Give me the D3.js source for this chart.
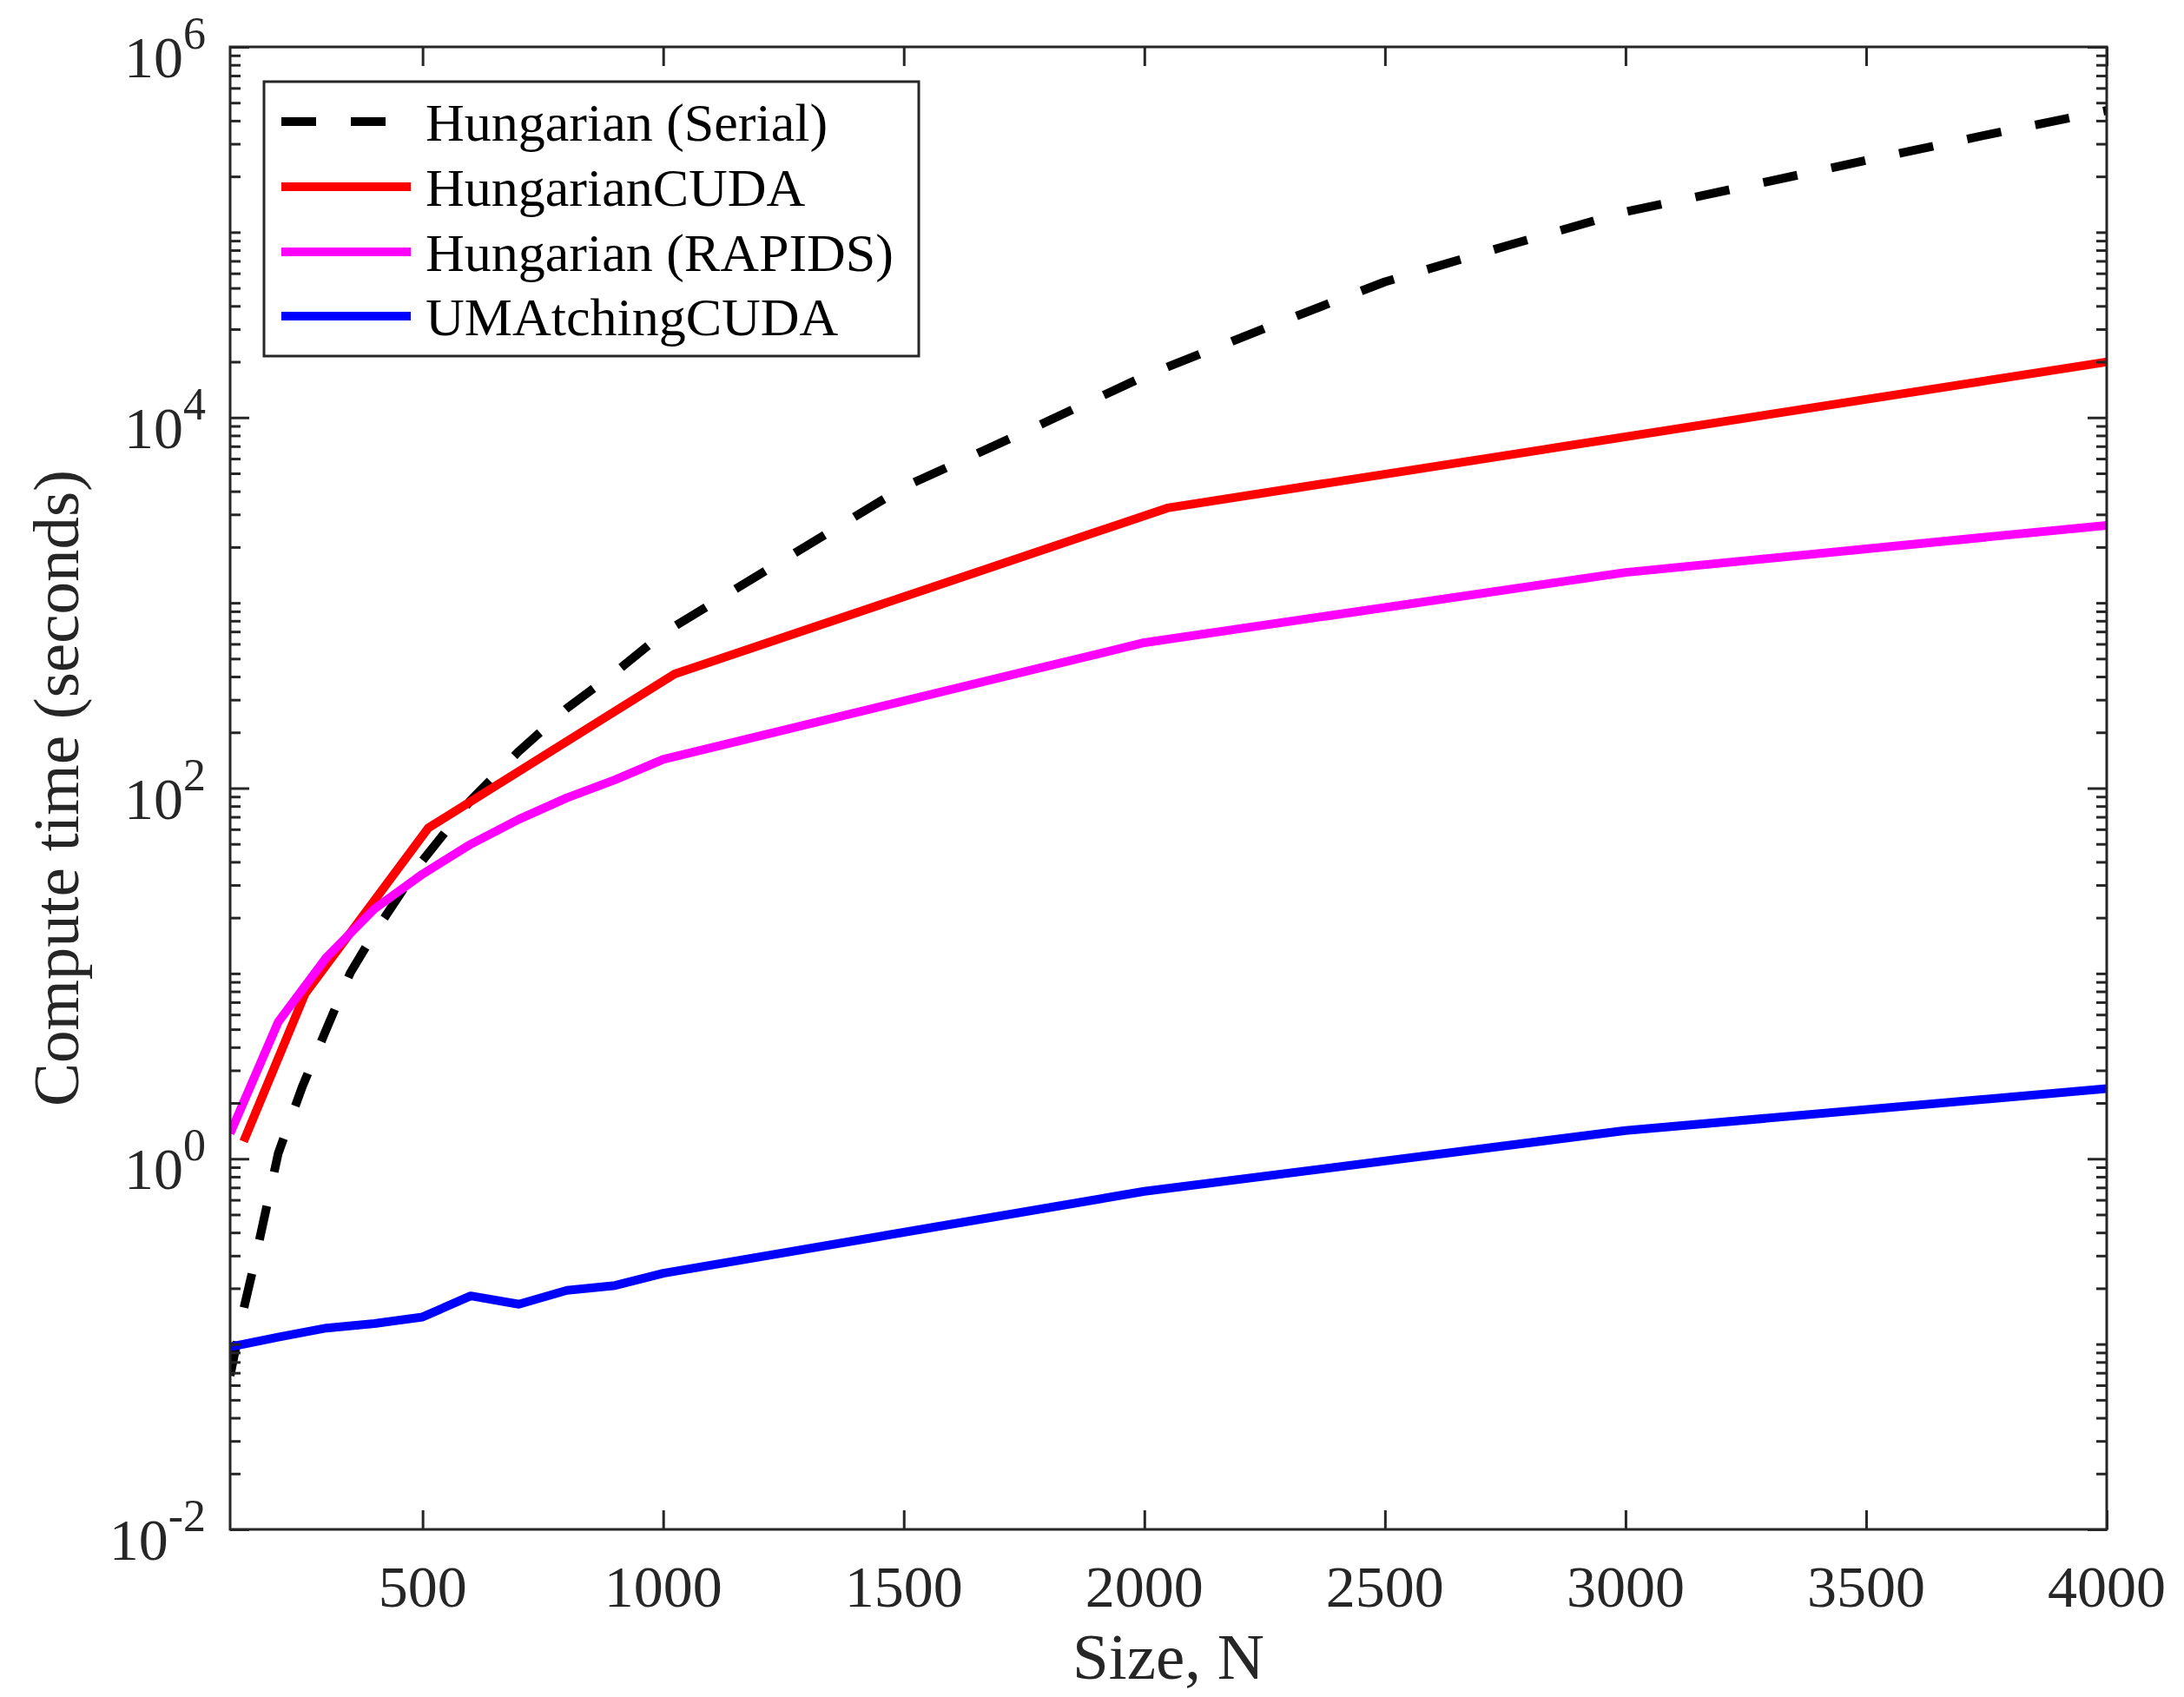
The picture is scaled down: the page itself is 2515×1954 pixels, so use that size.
<!DOCTYPE html>
<html>
<head>
<script src="https://d3js.org/d3.v7.min.js"></script>
<style>
  body { margin: 0; background: #fff; }
  text { font-family: "Liberation Serif", "Times New Roman", serif; }
</style>
</head>
<body>
<svg width="2515" height="1954"></svg>
<script>
// values (seconds)
const serialN = [100, 128, 150, 200, 250, 300, 350, 400, 500, 600, 700, 800, 900, 1000,
                 1250, 1500, 1750, 2000, 2250, 2500, 2750, 3000, 3250, 3500, 3750, 4000];
const serialT = [0.0675, 0.154, 0.27, 1.07, 2.45, 5.0, 10.1, 16.6, 40.7, 86, 158, 270, 421, 685,
                 1706, 4210, 8340, 16700, 30300, 54000, 84000, 128800, 177000, 244000, 335000, 454000];

const cudaN = [128, 256, 512, 1024, 2048, 4096];
const cudaT = [1.24, 7.8, 61, 413, 3250, 21800];

const rapidsN = [100, 200, 300, 400, 500, 600, 700, 800, 900, 1000, 2000, 3000, 4000];
const rapidsT = [1.37, 5.47, 12.2, 22.3, 34.4, 49.8, 67.9, 88.7, 111, 143, 610, 1459, 2620];

const umN = [100, 200, 300, 400, 500, 600, 700, 800, 900, 1000, 2000, 3000, 4000];
const umT = [0.0966, 0.109, 0.122, 0.129, 0.140, 0.182, 0.164, 0.195, 0.207, 0.241, 0.667, 1.42, 2.39];

const xTicks = [500, 1000, 1500, 2000, 2500, 3000, 3500, 4000];
const yMajor = [-2, 0, 2, 4, 6];   // exponents that get a label

const series = [
  { name: "Hungarian (Serial)", n: serialN, t: serialT, color: "#000000", dash: "40,40" },
  { name: "HungarianCUDA", n: cudaN, t: cudaT, color: "#ff0000", dash: null },
  { name: "Hungarian (RAPIDS)", n: rapidsN, t: rapidsT, color: "#ff00ff", dash: null },
  { name: "UMAtchingCUDA", n: umN, t: umT, color: "#0000ff", dash: null }
];

const L = 265, R = 2426, T = 54, B = 1761;
const axisColor = "#262626";

const svg = d3.select("svg");
svg.append("rect").attr("width", 2515).attr("height", 1954).attr("fill", "#fff");

const x = d3.scaleLinear().domain([100, 4000]).range([L, R]);
const y = d3.scaleLog().domain([1e-2, 1e6]).range([B, T]);

// minor ticks: 1..9 x 10^k, skipping the labelled decades
const majorVals = yMajor.map(e => Math.pow(10, e));
const minorVals = [];
for (let k = -2; k < 6; k++) {
  for (let m = 1; m <= 9; m++) {
    const v = m * Math.pow(10, k);
    if (!majorVals.some(mv => Math.abs(mv - v) / v < 1e-9)) minorVals.push(v);
  }
}

svg.append("defs").append("clipPath").attr("id", "plotclip")
  .append("rect").attr("x", L).attr("y", T).attr("width", R - L).attr("height", B - T);

// lines
const line = d3.line().x(d => x(d[0])).y(d => y(d[1]));
const lines = svg.append("g").attr("clip-path", "url(#plotclip)");
series.forEach(s => {
  lines.append("path")
    .datum(s.n.map((n, i) => [n, s.t[i]]))
    .attr("d", line)
    .attr("fill", "none")
    .attr("stroke", s.color)
    .attr("stroke-width", 10)
    .attr("stroke-linejoin", "round")
    .attr("stroke-dasharray", s.dash);
});

// axes: ticks point inward on all four sides
function styleAxis(g) {
  g.select(".domain").remove();
  g.selectAll(".tick line").attr("stroke", axisColor).attr("stroke-width", 3);
  g.selectAll(".tick text").remove();
}
svg.append("g").attr("transform", `translate(0,${B})`)
  .call(d3.axisBottom(x).tickValues(xTicks).tickSize(-22)).call(styleAxis);
svg.append("g").attr("transform", `translate(0,${T})`)
  .call(d3.axisTop(x).tickValues(xTicks).tickSize(-22)).call(styleAxis);
svg.append("g").attr("transform", `translate(${L},0)`)
  .call(d3.axisLeft(y).tickValues(majorVals).tickSize(-22)).call(styleAxis);
svg.append("g").attr("transform", `translate(${L},0)`)
  .call(d3.axisLeft(y).tickValues(minorVals).tickSize(-12)).call(styleAxis);
svg.append("g").attr("transform", `translate(${R},0)`)
  .call(d3.axisRight(y).tickValues(majorVals).tickSize(-22)).call(styleAxis);
svg.append("g").attr("transform", `translate(${R},0)`)
  .call(d3.axisRight(y).tickValues(minorVals).tickSize(-12)).call(styleAxis);

svg.append("rect").attr("x", L).attr("y", T).attr("width", R - L).attr("height", B - T)
  .attr("fill", "none").attr("stroke", axisColor).attr("stroke-width", 3);

// tick labels
svg.append("g").selectAll("text").data(xTicks).join("text")
  .attr("x", d => x(d)).attr("y", B + 89)
  .attr("text-anchor", "middle").attr("font-size", 68).attr("fill", axisColor)
  .text(d => d);

const yl = svg.append("g").selectAll("text").data(yMajor).join("text")
  .attr("x", 237).attr("y", d => y(Math.pow(10, d)) + 35)
  .attr("text-anchor", "end").attr("fill", axisColor);
yl.append("tspan").attr("font-size", 68).text("10");
yl.append("tspan").attr("font-size", 52).attr("dy", -33).text(d => d);

// axis titles
svg.append("text").attr("x", (L + R) / 2).attr("y", 1933)
  .attr("text-anchor", "middle").attr("font-size", 75).attr("fill", axisColor)
  .text("Size, N");
svg.append("text").attr("transform", `translate(90,${(T + B) / 2}) rotate(-90)`)
  .attr("text-anchor", "middle").attr("font-size", 75).attr("fill", axisColor)
  .text("Compute time (seconds)");

// legend
const lg = svg.append("g");
lg.append("rect").attr("x", 304).attr("y", 94).attr("width", 754).attr("height", 316)
  .attr("fill", "#fff").attr("stroke", axisColor).attr("stroke-width", 3);
const rowY = [140, 215, 290, 364];
series.forEach((s, i) => {
  lg.append("line")
    .attr("x1", 324).attr("x2", 473).attr("y1", rowY[i]).attr("y2", rowY[i])
    .attr("stroke", s.color).attr("stroke-width", 10)
    .attr("stroke-dasharray", s.dash);
  lg.append("text").attr("x", 490).attr("y", rowY[i] + 22)
    .attr("font-size", 62).attr("fill", "#000").text(s.name);
});
</script>
</body>
</html>
